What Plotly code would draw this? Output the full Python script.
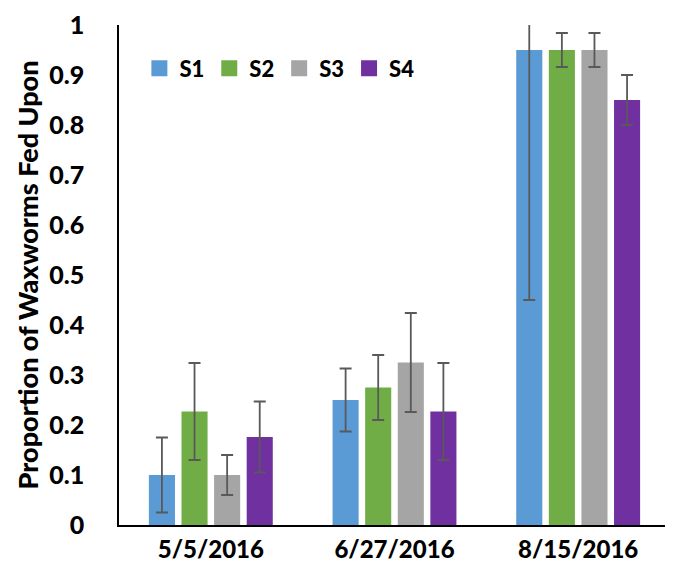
import plotly.graph_objects as go

dates = ["5/5/2016", "6/27/2016", "8/15/2016"]
series = ["S1", "S2", "S3", "S4"]
colors = ["#5B9BD5", "#70AD47", "#A5A5A5", "#7030A0"]
s1 = [0.10, 0.25, 0.95]
s2 = [0.227, 0.275, 0.95]
s3 = [0.10, 0.325, 0.95]
s4 = [0.176, 0.227, 0.85]
e1 = [0.075, 0.063, 0.50]
e2 = [0.097, 0.065, 0.034]
e3 = [0.040, 0.099, 0.034]
e4 = [0.071, 0.097, 0.050]
values = [s1, s2, s3, s4]
errors = [e1, e2, e3, e4]
yticks = [0, 0.1, 0.2, 0.3, 0.4, 0.5, 0.6, 0.7, 0.8, 0.9, 1]

FONT = "Lato"
W = 900
fig = go.Figure()
for name, vals, errs, col in zip(series, values, errors, colors):
    fig.add_trace(go.Bar(
        x=dates, y=vals, name=name, marker=dict(color=col, line=dict(width=0)),
        error_y=dict(type="data", array=errs, visible=True, color="#595959",
                     thickness=1.8, width=6),
        showlegend=False,
    ))
    fig.add_trace(go.Scatter(
        x=[None], y=[None], mode="markers", name=name,
        marker=dict(symbol="square", size=16, color=col),
    ))

fig.update_layout(
    width=665, height=574,
    margin=dict(l=111, r=3, t=17, b=57, autoexpand=False),
    paper_bgcolor="white", plot_bgcolor="white",
    barmode="group", bargap=0.29, bargroupgap=0.2,
    font=dict(family=FONT, size=20, color="black", weight=W),
    legend=dict(orientation="h", x=0.037, y=0.913, xanchor="left", yanchor="middle",
                font=dict(family=FONT, size=22, color="black", weight=W),
                itemwidth=30, bgcolor="rgba(0,0,0,0)", traceorder="normal"),
)
fig.update_xaxes(showline=True, linecolor="black", linewidth=2, showgrid=False,
                 ticks="", ticklabelstandoff=2, automargin=False,
                 tickfont=dict(family=FONT, size=24, weight=W))
fig.update_yaxes(range=[0, 1], tickvals=yticks, showline=True, linecolor="black",
                 linewidth=1.5, showgrid=False, zeroline=False, ticks="",
                 ticklabelstandoff=28, automargin=False, ticklabeloverflow="allow",
                 tickfont=dict(family=FONT, size=25, weight=W),
                 title=dict(text="Proportion of Waxworms Fed Upon", standoff=3,
                            font=dict(family=FONT, size=27, weight=W)))

fig.write_html("out.html")
